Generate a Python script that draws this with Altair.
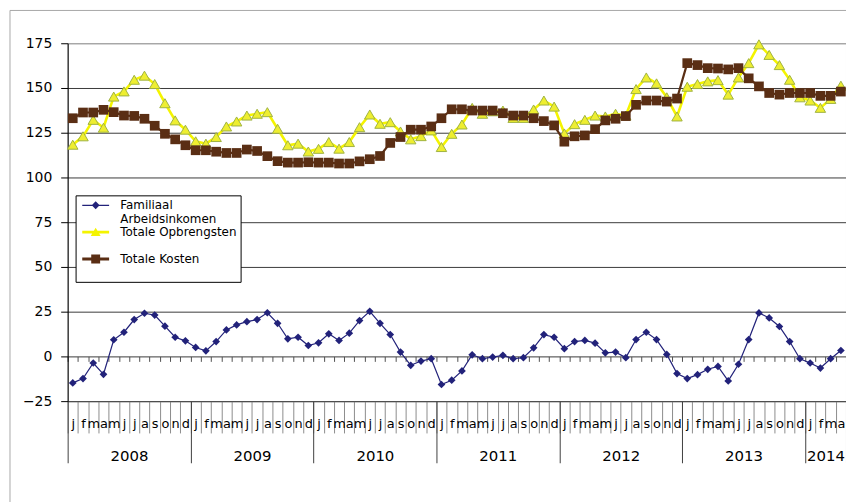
import json
import altair as alt
import pandas as pd

# ---------------- data ----------------
MONTHS = ["j", "f", "m", "a", "m", "j", "j", "a", "s", "o", "n", "d"]
YEARS = ["2008", "2009", "2010", "2011", "2012", "2013", "2014"]
SERIES = ["Familiaal Arbeidsinkomen", "Totale Opbrengsten", "Totale Kosten"]

familiaal = [
    -14.8, -12.4, -3.7, -10.0, 9.3, 13.5, 20.6, 24.1, 23.1, 16.9, 10.7, 8.7,
    5.0, 3.1, 8.3, 14.8, 17.6, 19.4, 20.6, 24.4, 18.5, 9.8, 10.7, 6.1,
    7.6, 12.6, 8.9, 13.0, 20.0, 25.2, 18.5, 12.2, 2.4, -5.0, -2.6, -1.3,
    -15.7, -13.3, -8.1, 0.9, -1.3, -0.4, 0.6, -1.3, -0.7, 4.8, 12.2, 10.7,
    4.3, 8.3, 8.9, 7.4, 2.0, 2.4, -0.7, 9.4, 13.5, 9.4, 1.1, -9.6,
    -12.4, -10.2, -7.2, -5.6, -13.7, -4.4, 9.4, 24.3, 21.5, 16.7, 8.3, -1.3,
    -3.7, -6.5, -1.3, 3.3,
]
opbrengsten = [
    118.3, 123.0, 132.2, 127.8, 145.2, 148.1, 154.6, 156.9, 152.2, 141.5, 131.9, 126.7,
    120.2, 118.9, 122.6, 128.5, 131.3, 134.6, 135.6, 136.5, 127.2, 118.0, 118.9, 114.5,
    116.0, 119.8, 116.1, 119.8, 128.1, 135.2, 130.0, 130.9, 125.7, 121.3, 123.1, 126.3,
    117.0, 124.4, 129.6, 138.9, 135.6, 137.0, 137.4, 133.3, 133.3, 138.0, 143.0, 139.6,
    124.6, 129.8, 132.2, 134.6, 134.1, 135.6, 134.6, 149.4, 155.9, 152.6, 144.8, 134.1,
    150.7, 152.2, 153.7, 154.4, 146.3, 155.9, 163.9, 174.4, 168.5, 162.8, 154.6, 144.8,
    143.0, 138.9, 143.9, 151.3,
]
kosten = [
    133.1, 136.3, 136.3, 137.8, 136.5, 134.6, 134.4, 132.8, 128.9, 124.4, 121.3, 118.0,
    115.2, 115.2, 114.4, 113.7, 113.7, 115.6, 114.8, 111.9, 109.1, 108.3, 108.3, 108.5,
    108.3, 108.3, 107.8, 107.8, 109.0, 110.2, 112.0, 119.3, 122.6, 126.7, 126.7, 128.5,
    133.1, 138.1, 138.1, 137.4, 137.4, 137.4, 135.9, 134.6, 134.6, 133.1, 131.5, 129.1,
    120.0, 123.0, 123.5, 127.0, 131.9, 132.8, 134.3, 140.6, 143.0, 143.0, 142.4, 144.1,
    163.9, 162.8, 161.1, 160.9, 160.4, 161.1, 155.4, 150.9, 147.2, 146.3, 147.2, 147.2,
    147.2, 145.6, 145.6, 148.0,
]

Y_TICKS = [-25, 0, 25, 50, 75, 100, 125, 150, 175]

# ---------------- styles ----------------
NAVY = "#22227a"
YELLOW = "#f4f400"
YELLOW_FILL = "#eeee30"
YELLOW_EDGE = "#9fb242"
BROWN = "#5a2e14"
FONT = "DejaVu Sans"

n = len(kosten)
rows = []
for name, vals in zip(SERIES, [familiaal, opbrengsten, kosten]):
    for i, v in enumerate(vals):
        rows.append({"idx": i + 0.5, "series": name, "value": v})
df = pd.DataFrame(rows)

xscale = alt.Scale(domain=[0, n], nice=False, zero=False)
yscale = alt.Scale(domain=[Y_TICKS[0], Y_TICKS[-1]], nice=False, zero=False)

month_expr = json.dumps(MONTHS) + "[floor(datum.value) % 12]"
year_expr = json.dumps(YEARS) + "[floor(datum.value / 12)]"
year_bounds = list(range(0, n, 12)) + [n]
year_mids = [(year_bounds[k] + year_bounds[k + 1]) / 2 for k in range(len(year_bounds) - 1)]

axis_zero = alt.Axis(orient="bottom", offset=-45, values=list(range(n + 1)), labels=False,
                     ticks=True, tickSize=5, tickColor="#505050", domain=False, grid=False, title=None)
axis_msep = alt.Axis(orient="bottom", values=list(range(n + 1)), labels=False, ticks=True,
                     tickSize=32, tickColor="#8c8c8c", domain=True, domainColor="#505050",
                     grid=False, title=None)
axis_mlab = alt.Axis(orient="bottom", values=[i + 0.5 for i in range(n)], ticks=False, tickSize=0,
                     labelExpr=month_expr, labelFont=FONT, labelFontSize=13, labelColor="#000",
                     labelPadding=17, labelOverlap=False, labelFlush=False, labelBound=False,
                     domain=False, grid=False, title=None)
axis_ysep = alt.Axis(orient="bottom", values=year_bounds, labels=False, ticks=True, tickSize=62,
                     tickColor="#404040", domain=False, grid=False, title=None)
axis_ylab = alt.Axis(orient="bottom", values=year_mids, ticks=False, tickSize=0,
                     labelExpr=year_expr, labelFont=FONT, labelFontSize=15, labelColor="#000",
                     labelPadding=48, labelOverlap=False, labelFlush=False, labelBound=False,
                     domain=False, grid=False, title=None)
axis_y = alt.Axis(values=Y_TICKS, title=None, labelFont=FONT, labelFontSize=14, labelColor="#000",
                  tickSize=7, tickColor="#000", domainColor="#000", labelPadding=9,
                  grid=True,
                  gridColor={"condition": {"test": "datum.value >= 175", "value": "#a0a0a0"},
                             "value": "#3a3a3a"},
                  gridWidth=1)

base = alt.Chart(df)


def layer(name, mark, xaxis, yaxis=alt.Undefined):
    return mark.transform_filter(alt.datum.series == name).encode(
        x=alt.X("idx:Q", scale=xscale, axis=xaxis),
        y=alt.Y("value:Q", scale=yscale, axis=yaxis),
    )


y_line = layer(SERIES[1], base.mark_line(color=YELLOW, strokeWidth=2.6), axis_zero, axis_y)
y_pts = layer(SERIES[1], base.mark_point(shape="triangle-up", filled=True, fill=YELLOW_FILL,
                                         stroke=YELLOW_EDGE, strokeWidth=1, size=110, opacity=1),
              axis_msep)
b_line = layer(SERIES[2], base.mark_line(color=BROWN, strokeWidth=2.2), axis_mlab)
b_pts = layer(SERIES[2], base.mark_point(shape="square", filled=True, color=BROWN, size=95,
                                         opacity=1), axis_ysep)
n_line = layer(SERIES[0], base.mark_line(color=NAVY, strokeWidth=1.2), axis_ylab)
n_pts = layer(SERIES[0], base.mark_point(shape="diamond", filled=True, color=NAVY, size=60,
                                         opacity=1), None)

# legend (line + marker symbols as custom paths, unit = 7 px)
LEGEND_PATHS = [
    "M-1.93,-0.086H1.93V0.086H-1.93Z M0,-0.57L0.57,0L0,0.57L-0.57,0Z",
    "M-1.93,-0.21H1.93V0.21H-1.93Z M0,-0.64L0.71,0.57L-0.71,0.57Z",
    "M-1.93,-0.21H1.93V0.21H-1.93Z M-0.64,-0.64H0.64V0.64H-0.64Z",
]
first_words = json.dumps(SERIES[0].split(" "))
leg_expr = f"datum.label == '{SERIES[0]}' ? {first_words} : [datum.label, ' ']"
legend = alt.Legend(title=None, orient="none", legendX=8, legendY=153, labelExpr=leg_expr,
                    labelFont=FONT, labelFontSize=12, labelColor="#000", labelOffset=17.7,
                    labelLimit=300, symbolSize=196, symbolOffset=10.2, symbolStrokeWidth=0,
                    padding=3, rowPadding=-1, strokeColor="#000", fillColor="#ffffff",
                    cornerRadius=0)
legend_layer = base.transform_filter("false").mark_point(filled=True, opacity=1).encode(
    color=alt.Color("series:N", scale=alt.Scale(domain=SERIES, range=[NAVY, YELLOW, BROWN]),
                    legend=legend),
    shape=alt.Shape("series:N", scale=alt.Scale(domain=SERIES, range=LEGEND_PATHS), legend=legend),
)

frame = alt.Chart(alt.Data(values=[{}])).mark_rect(fill="white", fillOpacity=0, stroke="#a8a8a8",
                                                    strokeWidth=1).encode(
    x=alt.value(-58), x2=alt.value(1000), y=alt.value(-33), y2=alt.value(700))

chart = alt.layer(frame, y_line, y_pts, b_line, b_pts, n_line, n_pts, legend_layer).resolve_axis(
    x="independent"
).properties(
    width=783, height=360,
    autosize=alt.AutoSizeParams(type="none"),
    padding={"left": 60, "top": 34, "right": 0, "bottom": 100},
    background="white",
).configure_view(stroke="#a0a0a0", strokeWidth=1)

chart.save("out.html", embed_options={"renderer": "svg", "actions": False})
